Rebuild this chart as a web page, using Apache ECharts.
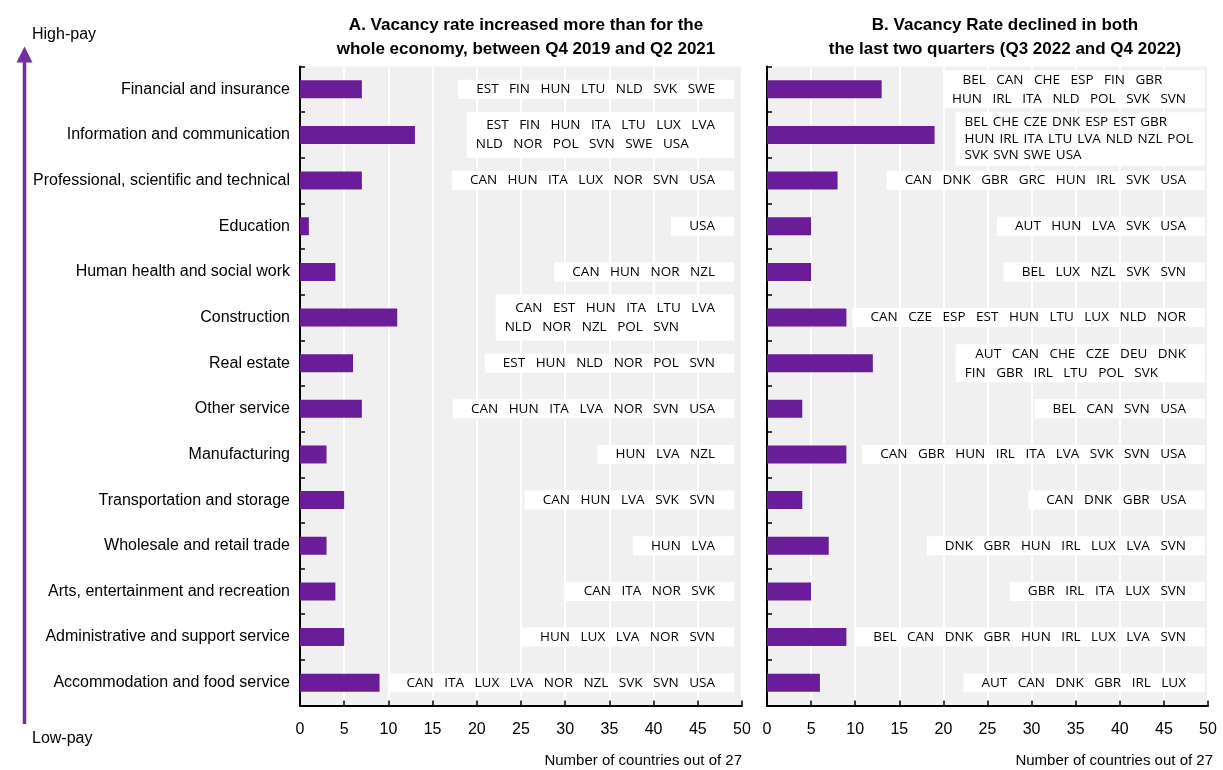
<!DOCTYPE html>
<html>
<head>
<meta charset="utf-8">
<title>Vacancy rate by sector</title>
<script src="https://cdn.jsdelivr.net/npm/echarts@6/dist/echarts.min.js"></script>
<style>
  html, body { margin: 0; padding: 0; background: #fff; }
  #chart { width: 1223px; height: 770px; }
</style>
</head>
<body>
<div id="chart"></div>
<script>
// sectors, ordered from high-pay (top) to low-pay (bottom)
const sectors = [
  "Financial and insurance",
  "Information and communication",
  "Professional, scientific and technical",
  "Education",
  "Human health and social work",
  "Construction",
  "Real estate",
  "Other service",
  "Manufacturing",
  "Transportation and storage",
  "Wholesale and retail trade",
  "Arts, entertainment and recreation",
  "Administrative and support service",
  "Accommodation and food service"
];

// number of countries, panel A and panel B
const countA = [7, 13, 7, 1, 4, 11, 6, 7, 3, 5, 3, 4, 5, 9];
const countB = [13, 19, 8, 5, 5, 9, 12, 4, 9, 4, 7, 5, 9, 6];

// country lists shown next to the bars
const countriesA = [
  "EST   FIN   HUN   LTU   NLD   SVK   SWE",
  "   EST   FIN   HUN   ITA   LTU   LUX   LVA\nNLD   NOR   POL   SVN   SWE   USA",
  "CAN   HUN   ITA   LUX   NOR   SVN   USA",
  "USA",
  "CAN   HUN   NOR   NZL",
  "   CAN   EST   HUN   ITA   LTU   LVA\nNLD   NOR   NZL   POL   SVN",
  "EST   HUN   NLD   NOR   POL   SVN",
  "CAN   HUN   ITA   LVA   NOR   SVN   USA",
  "HUN   LVA   NZL",
  "CAN   HUN   LVA   SVK   SVN",
  "HUN   LVA",
  "CAN   ITA   NOR   SVK",
  "HUN   LUX   LVA   NOR   SVN",
  "CAN   ITA   LUX   LVA   NOR   NZL   SVK   SVN   USA"
];
const countriesB = [
  "   BEL   CAN   CHE   ESP   FIN   GBR\nHUN   IRL   ITA   NLD   POL   SVK   SVN",
  "BEL \u200ACHE \u200ACZE \u200ADNK \u200AESP \u200AEST \u200AGBR\nHUN \u200AIRL \u200AITA \u200ALTU \u200ALVA \u200ANLD \u200ANZL \u200APOL\nSVK \u200ASVN \u200ASWE \u200AUSA",
  "CAN   DNK   GBR   GRC   HUN   IRL   SVK   USA",
  "AUT   HUN   LVA   SVK   USA",
  "BEL   LUX   NZL   SVK   SVN",
  "CAN   CZE   ESP   EST   HUN   LTU   LUX   NLD   NOR",
  "   AUT   CAN   CHE   CZE   DEU   DNK\nFIN   GBR   IRL   LTU   POL   SVK",
  "BEL   CAN   SVN   USA",
  "CAN   GBR   HUN   IRL   ITA   LVA   SVK   SVN   USA",
  "CAN   DNK   GBR   USA",
  "DNK   GBR   HUN   IRL   LUX   LVA   SVN",
  "GBR   IRL   ITA   LUX   SVN",
  "BEL   CAN   DNK   GBR   HUN   IRL   LUX   LVA   SVN",
  "AUT   CAN   DNK   GBR   IRL   LUX"
];

const xMax = 50;
const xStep = 5;

const purple = "#6A1D98";
const font = "Liberation Sans, Arial, sans-serif";
const boxFont = '13.5px "Open Sans"';

const measureCtx = document.createElement("canvas").getContext("2d");
measureCtx.font = boxFont;

// white label box, right edge pinned near the end of the x axis
function makeBoxRenderer(labels, gapRight, padMulti) {
  return function (params, api) {
    const pt = api.coord([api.value(0), api.value(1)]);
    const text = labels[params.dataIndex];
    const lines = text.split("\n");
    const multi = lines.length > 1;
    const lineH = lines.length > 2 ? 16.5 : 19;
    let w = 0;
    lines.forEach((l) => {
      w = Math.max(w, measureCtx.measureText(l).width);
    });
    const padL = multi ? 9 : 18;
    const padR = lines.length > 2 ? 12 : 19;
    const padV = lines.length > 2 ? 2 : (multi ? padMulti : 0);
    // the three-line box sits a little low in the original
    const shift = lines.length > 2 ? 4 : 0;
    const boxW = w + padL + padR;
    const boxH = lines.length * lineH + padV * 2;
    const right = pt[0] - gapRight;
    const left = right - boxW;
    const cy = pt[1] + shift;
    const top = cy - boxH / 2;
    return {
      type: "group",
      children: [
        {
          type: "rect",
          shape: { x: left, y: top, width: boxW, height: boxH },
          style: { fill: "#fff" }
        },
        {
          type: "text",
          x: left + padL,
          y: cy,
          style: {
            text: text,
            font: boxFont,
            fill: "#000",
            align: "left",
            verticalAlign: "middle",
            lineHeight: lineH
          }
        }
      ]
    };
  };
}

function xAxisFor(grid) {
  return {
    type: "value",
    gridIndex: grid,
    min: 0,
    max: xMax,
    interval: xStep,
    axisLine: { show: true, lineStyle: { color: "#000", width: 2 } },
    axisTick: { show: true, inside: true, length: 5, lineStyle: { color: "#000", width: 1.5 } },
    axisLabel: { color: "#000", fontSize: 16, fontFamily: font, margin: 16 },
    splitLine: { show: true, lineStyle: { color: "#fff", width: 2 } }
  };
}

function yAxisFor(grid, showLabels) {
  return {
    type: "category",
    gridIndex: grid,
    data: sectors,
    inverse: true,
    axisLine: { show: true, lineStyle: { color: "#000", width: 2 } },
    axisTick: { show: true, inside: true, length: 5, lineStyle: { color: "#000", width: 1.5 } },
    axisLabel: { show: showLabels, color: "#000", fontSize: 16, fontFamily: font, margin: 10 },
    splitLine: { show: false }
  };
}

const chart = echarts.init(document.getElementById("chart"), null, { renderer: "canvas" });

chart.setOption({
  animation: false,
  backgroundColor: "#fff",
  title: [
    {
      text: "A. Vacancy rate increased more than for the\nwhole economy, between Q4 2019 and Q2 2021",
      left: 521,
      top: 8,
      textAlign: "center",
      textStyle: { fontSize: 17, fontWeight: "bold", fontFamily: font, color: "#000", lineHeight: 24 }
    },
    {
      text: "B. Vacancy Rate declined in both\nthe last two quarters (Q3 2022 and Q4 2022)",
      left: 1000,
      top: 8,
      textAlign: "center",
      textStyle: { fontSize: 17, fontWeight: "bold", fontFamily: font, color: "#000", lineHeight: 24 }
    }
  ],
  grid: [
    { left: 300, right: 481, top: 66.5, bottom: 64.5, show: true, backgroundColor: "#f0f0f0", borderWidth: 0 },
    { left: 767, right: 15, top: 66.5, bottom: 64.5, show: true, backgroundColor: "#f0f0f0", borderWidth: 0 }
  ],
  xAxis: [xAxisFor(0), xAxisFor(1)],
  yAxis: [yAxisFor(0, true), yAxisFor(1, false)],
  series: [
    {
      name: "A",
      type: "bar",
      xAxisIndex: 0,
      yAxisIndex: 0,
      data: countA,
      barWidth: 18,
      itemStyle: { color: purple },
      z: 3
    },
    {
      name: "B",
      type: "bar",
      xAxisIndex: 1,
      yAxisIndex: 1,
      data: countB,
      barWidth: 18,
      itemStyle: { color: purple },
      z: 3
    },
    {
      name: "labelsA",
      type: "custom",
      xAxisIndex: 0,
      yAxisIndex: 0,
      data: sectors.map((s, i) => [xMax, i]),
      encode: { x: 0, y: 1 },
      renderItem: makeBoxRenderer(countriesA, 8, 4),
      silent: true,
      z: 2
    },
    {
      name: "labelsB",
      type: "custom",
      xAxisIndex: 1,
      yAxisIndex: 1,
      data: sectors.map((s, i) => [xMax, i]),
      encode: { x: 0, y: 1 },
      renderItem: makeBoxRenderer(countriesB, 3, 0),
      silent: true,
      z: 2
    }
  ],
  graphic: [
    // pay arrow on the left
    {
      type: "line",
      shape: { x1: 24.5, y1: 60, x2: 24.5, y2: 724 },
      style: { stroke: "#7030A0", lineWidth: 3.5 }
    },
    {
      type: "polygon",
      shape: { points: [[24.5, 46.5], [16.5, 62.5], [32.5, 62.5]] },
      style: { fill: "#7030A0" }
    },
    {
      type: "text",
      x: 32, y: 35,
      style: { text: "High-pay", font: "16px " + font, fill: "#000", verticalAlign: "middle" }
    },
    {
      type: "text",
      x: 32, y: 739,
      style: { text: "Low-pay", font: "16px " + font, fill: "#000", verticalAlign: "middle" }
    },
    {
      type: "text",
      x: 742, y: 761,
      style: { text: "Number of countries out of 27", font: "15px " + font, fill: "#000", align: "right", verticalAlign: "middle" }
    },
    {
      type: "text",
      x: 1213, y: 761,
      style: { text: "Number of countries out of 27", font: "15px " + font, fill: "#000", align: "right", verticalAlign: "middle" }
    }
  ]
});
</script>
</body>
</html>
